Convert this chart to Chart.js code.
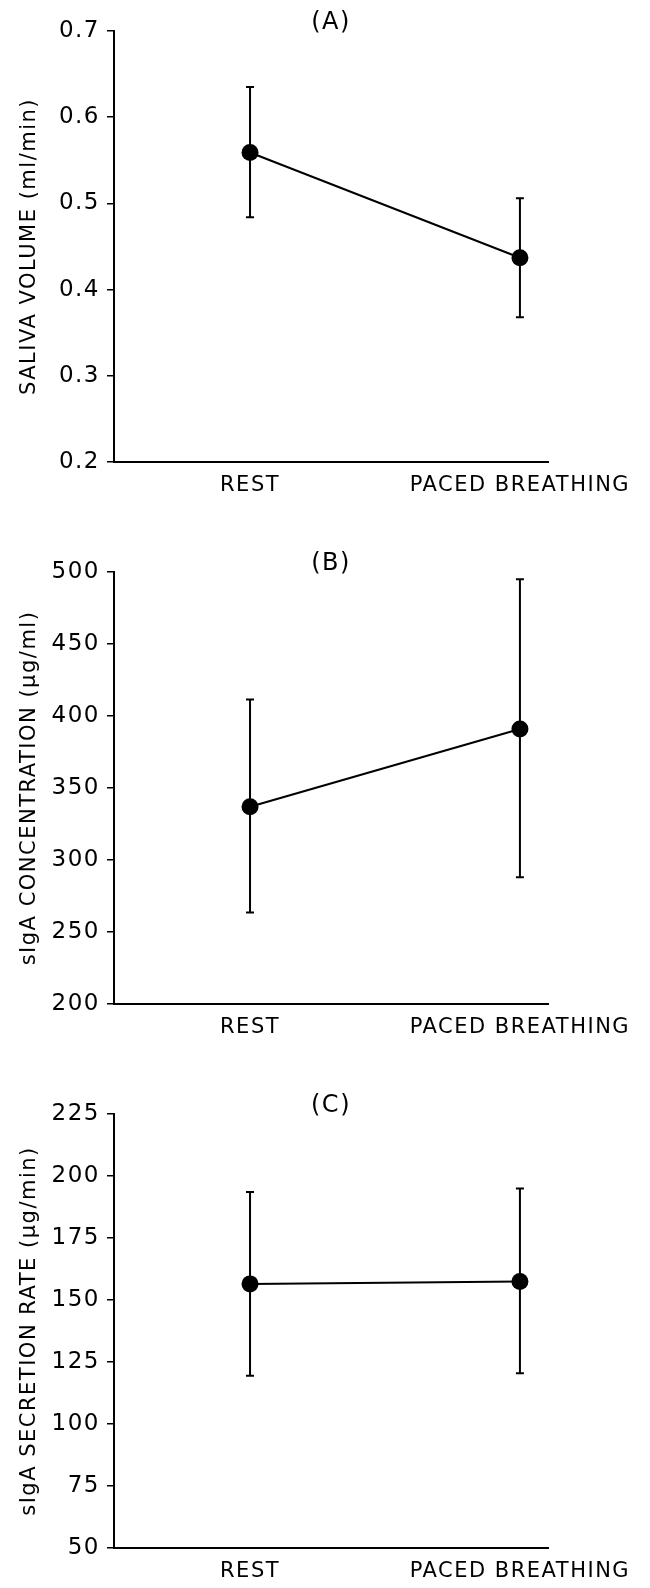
<!DOCTYPE html>
<html lang="en">
<head>
  <meta charset="UTF-8">
  <title>Saliva volume and sIgA: rest vs paced breathing</title>
  <script src="https://cdn.jsdelivr.net/npm/chart.js"></script>
  <style>
    body { margin: 0; background: #fff; }
    .panel { position: absolute; left: 0; }
  </style>
</head>
<body>
  <div class="panel" style="top:0px"><canvas id="chartA" width="650" height="502"></canvas></div>
  <div class="panel" style="top:541px"><canvas id="chartB" width="650" height="503"></canvas></div>
  <div class="panel" style="top:1083px"><canvas id="chartC" width="650" height="505"></canvas></div>

  <script>
    // categories along the x axis
    const categories = ["REST", "PACED BREATHING"];
    const positions = [1, 2];

    // (A) saliva volume, ml/min
    const volumeMean = [0.559, 0.437];
    const volumeLow = [0.484, 0.368];
    const volumeHigh = [0.635, 0.506];
    const volumeTicks = [0.2, 0.3, 0.4, 0.5, 0.6, 0.7];

    // (B) sIgA concentration, ug/ml
    const concMean = [337, 391];
    const concLow = [263.5, 288];
    const concHigh = [411.5, 495];
    const concTicks = [200, 250, 300, 350, 400, 450, 500];

    // (C) sIgA secretion rate, ug/min
    const rateMean = [156.5, 157.5];
    const rateLow = [119.5, 120.5];
    const rateHigh = [193.5, 195];
    const rateTicks = [50, 75, 100, 125, 150, 175, 200, 225];

    const FONT = "'DejaVu Sans', sans-serif";

    const errorBars = {
      id: "errorBars",
      beforeDatasetsDraw(chart, args, opts) {
        const ctx = chart.ctx;
        const xs = chart.scales.x, ys = chart.scales.y;
        ctx.save();
        ctx.strokeStyle = "#000";
        ctx.lineWidth = 2;
        opts.low.forEach((lo, i) => {
          const px = xs.getPixelForValue(positions[i]);
          const yLo = ys.getPixelForValue(lo);
          const yHi = ys.getPixelForValue(opts.high[i]);
          ctx.beginPath();
          ctx.moveTo(px, yLo); ctx.lineTo(px, yHi);
          ctx.moveTo(px - 4, yLo); ctx.lineTo(px + 4, yLo);
          ctx.moveTo(px - 4, yHi); ctx.lineTo(px + 4, yHi);
          ctx.stroke();
        });
        ctx.restore();
      }
    };

    const panelTitle = {
      id: "panelTitle",
      beforeDraw(chart) { chart.ctx.letterSpacing = "1.5px"; },
      afterDraw(chart, args, opts) {
        const ctx = chart.ctx;
        const a = chart.chartArea;
        ctx.save();
        ctx.font = "24px " + FONT;
        ctx.fillStyle = "#000";
        ctx.textAlign = "center";
        ctx.textBaseline = "middle";
        ctx.fillText(opts.text, (a.left + a.right) / 2, a.top - 8);
        ctx.restore();
        ctx.letterSpacing = "0px";
      }
    };

    function makePanel(id, letter, yTitle, mean, low, high, ticks) {
      const points = positions.map((p, i) => ({ x: p, y: mean[i] }));
      new Chart(document.getElementById(id), {
        type: "scatter",
        data: {
          datasets: [{
            data: points,
            showLine: true,
            borderColor: "#000",
            borderWidth: 2,
            backgroundColor: "#000",
            pointRadius: 8.5,
            pointBorderWidth: 0
          }]
        },
        options: {
          responsive: false,
          animation: false,
          layout: { padding: { top: 31, right: 102, bottom: 0, left: 0 } },
          plugins: {
            legend: { display: false },
            tooltip: { enabled: false },
            errorBars: { low: low, high: high },
            panelTitle: { text: letter }
          },
          scales: {
            x: {
              type: "linear",
              min: 0.496,
              max: 2.104,
              afterFit: s => { s.height = 40; },
              afterBuildTicks: s => { s.ticks = positions.map(v => ({ value: v })); },
              ticks: {
                color: "#000",
                padding: 11,
                font: { family: FONT, size: 21 },
                callback: (v, i) => categories[i]
              },
              grid: { drawOnChartArea: false, drawTicks: false },
              border: { color: "#000", width: 2 }
            },
            y: {
              min: ticks[0],
              max: ticks[ticks.length - 1],
              afterFit: s => { s.width = 114; },
              afterBuildTicks: s => { s.ticks = ticks.map(v => ({ value: v })); },
              ticks: {
                color: "#000",
                padding: 7,
                font: { family: FONT, size: 23 }
              },
              grid: { drawOnChartArea: false, tickLength: 7, color: "#000", lineWidth: 1.5 },
              border: { color: "#000", width: 2 },
              title: {
                display: true,
                text: yTitle,
                color: "#000",
                font: { family: FONT, size: 21 },
                padding: { top: 17, bottom: 0 }
              }
            }
          }
        },
        plugins: [errorBars, panelTitle]
      });
    }

    makePanel("chartA", "(A)", "SALIVA VOLUME (ml/min)", volumeMean, volumeLow, volumeHigh, volumeTicks);
    makePanel("chartB", "(B)", "sIgA CONCENTRATION (\u00b5g/ml)", concMean, concLow, concHigh, concTicks);
    makePanel("chartC", "(C)", "sIgA SECRETION RATE (\u00b5g/min)", rateMean, rateLow, rateHigh, rateTicks);
  </script>
</body>
</html>
